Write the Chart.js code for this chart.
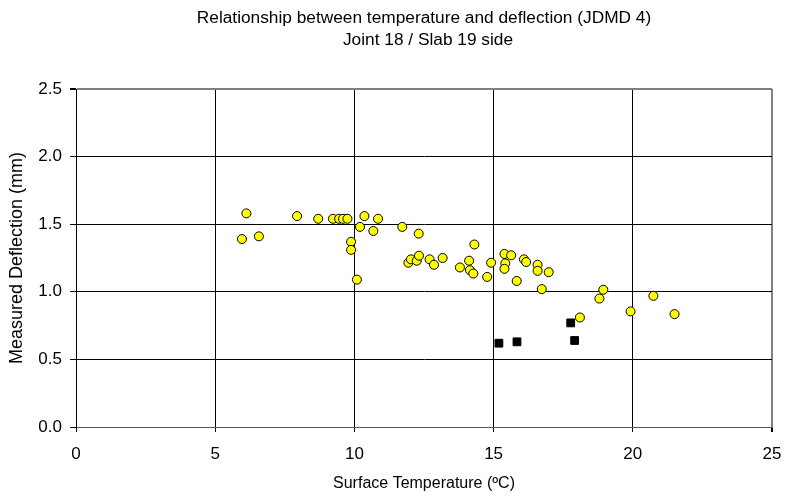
<!DOCTYPE html>
<html>
<head>
<meta charset="utf-8">
<script src="https://cdn.jsdelivr.net/npm/chart.js@4"></script>
<style>
  html, body { margin: 0; padding: 0; background: #fff; }
  #wrap { width: 787px; height: 496px; position: relative; }
</style>
</head>
<body>
<div id="wrap"><canvas id="chart"></canvas></div>
<script>
const titleLines = ['Relationship between temperature and deflection (JDMD 4)', 'Joint 18 / Slab 19 side']

// yellow circles
const circleTemp = [5.96, 6.12, 6.57, 7.94, 8.70, 9.23, 9.45, 9.59, 9.75, 9.88, 9.88, 10.09, 10.20, 10.36, 10.68, 10.85,
  11.72, 11.94, 12.03, 12.24, 12.32, 12.31, 12.70, 12.86, 13.17, 13.79, 14.12, 14.15, 14.27, 14.31, 14.77, 14.91,
  15.39, 15.63, 15.42, 15.39, 15.83, 16.09, 16.17, 16.58, 16.58, 16.98, 16.73, 18.10, 18.80, 18.94, 19.92, 20.74, 21.50]
const circleDefl = [1.39, 1.58, 1.41, 1.56, 1.54, 1.54, 1.54, 1.54, 1.54, 1.37, 1.31, 1.09, 1.48, 1.56, 1.45, 1.54,
  1.48, 1.215, 1.24, 1.23, 1.267, 1.43, 1.24, 1.20, 1.25, 1.18, 1.23, 1.16, 1.135, 1.35, 1.11, 1.215,
  1.28, 1.27, 1.21, 1.17, 1.08, 1.24, 1.22, 1.20, 1.155, 1.145, 1.02, 0.81, 0.95, 1.015, 0.855, 0.97, 0.835]

// black squares
const squareTemp = [15.19, 15.84, 17.77, 17.91]
const squareDefl = [0.62, 0.63, 0.77, 0.64]

const xTicks = [0, 5, 10, 15, 20, 25]
const yTicks = [0, 0.5, 1.0, 1.5, 2.0, 2.5]

const font = 'Liberation Sans, Arial, sans-serif'

const toPoints = (xs, ys) => xs.map((x, i) => ({ x, y: ys[i] }))

const titlePlugin = {
  id: 'twoLineTitle',
  afterDraw(chart) {
    const { ctx, chartArea } = chart
    const cx = (chartArea.left + chartArea.right) / 2
    ctx.save()
    ctx.fillStyle = '#000'
    ctx.font = '17.3px ' + font
    ctx.textAlign = 'center'
    ctx.textBaseline = 'middle'
    ctx.fillText(titleLines[0], cx, 18)
    ctx.fillText(titleLines[1], cx + 4, 40)
    ctx.restore()
  }
}

new Chart(document.getElementById('chart'), {
  type: 'scatter',
  data: {
    datasets: [
      { data: toPoints(circleTemp, circleDefl), pointStyle: 'circle', pointRadius: 4.5, pointHoverRadius: 4.5,
        backgroundColor: '#ffff00', borderColor: '#000', borderWidth: 1 },
      { data: toPoints(squareTemp, squareDefl), pointStyle: 'rect', pointRadius: 5.5, pointHoverRadius: 5.5,
        backgroundColor: '#000', borderColor: '#000', borderWidth: 1 },
    ]
  },
  options: {
    responsive: true, maintainAspectRatio: false, animation: false,
    layout: { padding: { top: 89, right: 15, left: 0, bottom: 0 } },
    plugins: { legend: { display: false }, tooltip: { enabled: false } },
    scales: {
      x: {
        type: 'linear', min: 0, max: 25,
        afterFit: s => { s.height = 69; s.paddingLeft = 0; s.paddingRight = 0 },
        afterBuildTicks: s => { s.ticks = xTicks.map(v => ({ value: v })) },
        ticks: { color: '#000', font: { family: font, size: 17 }, padding: 12, maxRotation: 0 },
        grid: {
          color: c => c.tick && c.tick.value === 25 ? '#808080' : '#000',
          lineWidth: c => c.tick && c.tick.value === 25 ? 2 : 1,
          tickLength: 5, tickColor: '#000'
        },
        border: { color: '#555', width: 1 },
        title: { display: true, text: 'Surface Temperature (ºC)', color: '#000', font: { family: font, size: 16 }, padding: { top: 4, bottom: 3 } }
      },
      y: {
        type: 'linear', min: 0, max: 2.5,
        afterFit: s => { s.width = 76 },
        afterBuildTicks: s => { s.ticks = yTicks.map(v => ({ value: v })) },
        ticks: { color: '#000', font: { family: font, size: 17 }, padding: 8, callback: v => v.toFixed(1) },
        grid: {
          color: c => c.tick && c.tick.value === 2.5 ? '#808080' : '#000',
          lineWidth: c => c.tick && c.tick.value === 2.5 ? 2 : 1,
          tickLength: 6, tickColor: '#000'
        },
        border: { color: '#000', width: 1 },
        title: { display: true, text: 'Measured Deflection (mm)', color: '#000', font: { family: font, size: 18 }, padding: { top: 6, bottom: 0 } }
      }
    }
  },
  plugins: [titlePlugin]
})
</script>
</body>
</html>
